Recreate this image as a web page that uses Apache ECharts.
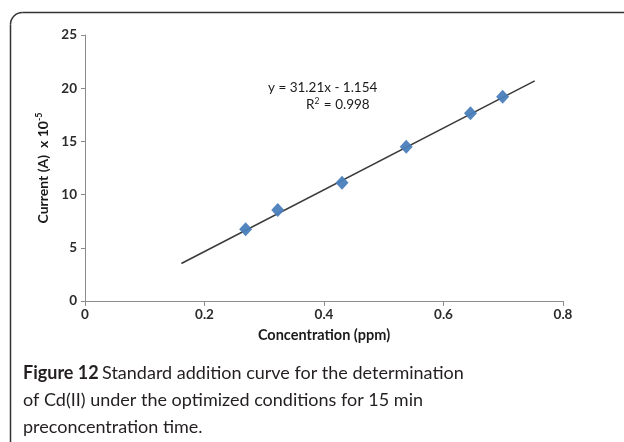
<!DOCTYPE html>
<html>
<head>
<meta charset="utf-8">
<script src="https://cdn.jsdelivr.net/npm/echarts@6/dist/echarts.min.js"></script>
<style>
  html, body { margin: 0; padding: 0; background: #ffffff; }
  #chart { width: 624px; height: 442px; }
</style>
</head>
<body>
<div id="chart"></div>
<script>
// Standard addition data: Cd(II) concentration (ppm) vs peak current (A x 10^-5)
const concentration = [0.25, 0.3, 0.4, 0.5, 0.6, 0.65];
const current = [6.74, 8.55, 11.12, 14.5, 17.64, 19.2];

// Linear fit y = slope * x + intercept, drawn across the fitted range
const slope = 31.21;
const intercept = -1.154;
const fitRange = [0.15, 0.7];

// Axis tick labels
const xTicks = [0, 0.2, 0.4, 0.6, 0.8];
const yTicks = [0, 5, 10, 15, 20, 25];

const fitLine = fitRange.map(x => [x, slope * x + intercept]);
const points = concentration.map((x, i) => [x, current[i]]);

const chart = echarts.init(document.getElementById('chart'), null, { renderer: 'canvas' });

const tickFont = { fontFamily: 'Lato', fontSize: 13.5, fontWeight: 'bold', color: '#2b2b2b' };
const frameStyle = { fill: null, stroke: '#333333', lineWidth: 1.5 };

chart.setOption({
  animation: false,
  backgroundColor: '#ffffff',
  grid: { left: 85, right: 61, top: 35, bottom: 141, containLabel: false },
  xAxis: [
    {
      // Labelled concentration axis
      type: 'value',
      min: xTicks[0],
      max: xTicks[xTicks.length - 1],
      interval: xTicks[1] - xTicks[0],
      name: 'Concentration (ppm)',
      nameLocation: 'middle',
      nameGap: 27,
      nameTextStyle: { fontFamily: 'Lato', fontSize: 14.5, fontWeight: 'bold', color: '#1a1a1a' },
      axisLine: { show: true, lineStyle: { color: '#8c8c8c', width: 1 } },
      axisTick: { show: true, length: 5, inside: false, lineStyle: { color: '#8c8c8c' } },
      axisLabel: Object.assign({ margin: 7 }, tickFont),
      splitLine: { show: false }
    },
    {
      // Plotting scale for the measured points and fit
      type: 'value',
      min: 0,
      max: 0.744,
      show: false,
      splitLine: { show: false }
    }
  ],
  yAxis: {
    type: 'value',
    min: yTicks[0],
    max: yTicks[yTicks.length - 1],
    interval: yTicks[1] - yTicks[0],
    name: '{n|Current (A)  x 10}{s|-5}',
    nameLocation: 'middle',
    nameGap: 34,
    nameRotate: 90,
    nameTextStyle: {
      rich: {
        n: { fontFamily: 'Lato', fontSize: 14, fontWeight: 'bold', color: '#1a1a1a' },
        s: { fontFamily: 'Lato', fontSize: 9, fontWeight: 'bold', color: '#1a1a1a', verticalAlign: 'top', padding: [0, 0, 7, 0] }
      }
    },
    axisLine: { show: true, lineStyle: { color: '#8c8c8c', width: 1 } },
    axisTick: { show: true, length: 4, inside: false, lineStyle: { color: '#8c8c8c' } },
    axisLabel: Object.assign({ margin: 8 }, tickFont),
    splitLine: { show: false }
  },
  series: [
    {
      name: 'Linear fit',
      type: 'line',
      xAxisIndex: 1,
      data: fitLine,
      symbol: 'none',
      lineStyle: { color: '#3a3a3a', width: 1.5 },
      z: 2
    },
    {
      name: 'Cd(II)',
      type: 'scatter',
      xAxisIndex: 1,
      data: points,
      symbol: 'diamond',
      symbolSize: [13, 14],
      itemStyle: { color: '#4a7ebb', opacity: 0.95 },
      z: 3
    }
  ],
  graphic: [
    // Figure frame: left and top edges joined by a rounded corner
    { type: 'line', shape: { x1: 10.5, y1: 24.5, x2: 10.5, y2: 442 }, style: frameStyle, silent: true },
    { type: 'line', shape: { x1: 22.5, y1: 12.5, x2: 624, y2: 12.5 }, style: frameStyle, silent: true },
    {
      type: 'arc',
      shape: { cx: 22.5, cy: 24.5, r: 12, startAngle: Math.PI, endAngle: Math.PI * 1.5, clockwise: true },
      style: frameStyle,
      silent: true
    },
    {
      type: 'text',
      left: 268,
      top: 81,
      style: { text: 'y = 31.21x - 1.154', fontFamily: 'Lato', fontSize: 13.5, fill: '#1a1a1a' }
    },
    {
      type: 'text',
      left: 306,
      top: 97,
      style: {
        text: '{n|R}{s|2}{n| = 0.998}',
        rich: {
          n: { fontFamily: 'Lato', fontSize: 13.5, fill: '#1a1a1a' },
          s: { fontFamily: 'Lato', fontSize: 8.5, fill: '#1a1a1a', verticalAlign: 'top', padding: [0, 1, 6, 0] }
        }
      }
    },
    {
      type: 'text',
      left: 23,
      top: 360,
      style: {
        text: '{b|Figure 12} {r|Standard addition curve for the determination}\n{r|of Cd(II) under the optimized conditions for 15 min}\n{r|preconcentration time.}',
        lineHeight: 27,
        rich: {
          b: { fontFamily: 'Lato', fontSize: 18, fontWeight: 'bold', fill: '#231f20', lineHeight: 27 },
          r: { fontFamily: 'Lato', fontSize: 18, fontWeight: 'normal', fill: '#231f20', lineHeight: 27 }
        }
      }
    }
  ]
});
</script>
</body>
</html>
